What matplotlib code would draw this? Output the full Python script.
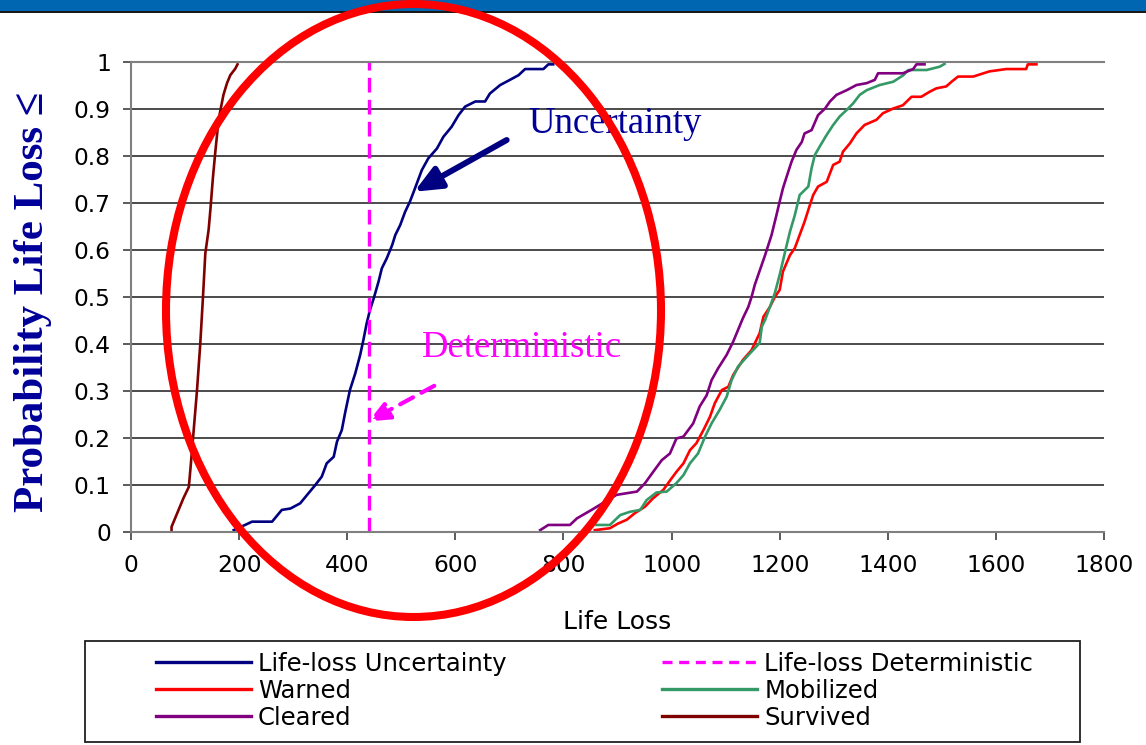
import numpy as np
import matplotlib.pyplot as plt
from matplotlib.patches import Ellipse, Rectangle, FancyArrowPatch
from matplotlib.lines import Line2D

unc_x = [190, 211, 224, 261, 279, 295, 313, 328, 341, 353, 362, 375, 381, 390, 396,
         405, 415, 424, 430, 436, 442, 449, 458, 464, 473, 483, 489, 498, 507, 516,
         523, 538, 550, 566, 578, 593, 606, 618, 637, 655, 664, 683, 701, 717, 729,
         763, 772, 781]
unc_y = [0.004, 0.015, 0.022, 0.022, 0.047, 0.05, 0.061, 0.082, 0.10, 0.118, 0.146,
         0.16, 0.192, 0.217, 0.253, 0.302, 0.338, 0.377, 0.409, 0.444, 0.472, 0.497,
         0.533, 0.561, 0.582, 0.61, 0.632, 0.653, 0.681, 0.703, 0.724, 0.77, 0.795,
         0.816, 0.841, 0.862, 0.887, 0.905, 0.916, 0.916, 0.933, 0.951, 0.962, 0.972,
         0.985, 0.985, 0.995, 0.995]

det_x = 440

warned_x = [858, 886, 901, 917, 932, 951, 966, 985, 1000, 1009, 1022, 1034, 1046, 1059,
            1071, 1080, 1093, 1105, 1114, 1132, 1148, 1163, 1170, 1182, 1191, 1200, 1206,
            1219, 1228, 1237, 1246, 1256, 1262, 1271, 1287, 1299, 1311, 1317, 1330, 1342,
            1357, 1379, 1391, 1410, 1428, 1444, 1462, 1478, 1490, 1508, 1518, 1530, 1558,
            1588, 1619, 1656, 1659, 1675]
warned_y = [0.004, 0.008, 0.018, 0.026, 0.04, 0.054, 0.072, 0.09, 0.114, 0.128, 0.146,
            0.174, 0.189, 0.217, 0.245, 0.274, 0.302, 0.309, 0.334, 0.366, 0.387, 0.423,
            0.458, 0.479, 0.50, 0.515, 0.554, 0.589, 0.604, 0.632, 0.66, 0.696, 0.717,
            0.735, 0.745, 0.781, 0.788, 0.809, 0.827, 0.848, 0.866, 0.877, 0.891, 0.901,
            0.908, 0.926, 0.926, 0.937, 0.944, 0.948, 0.958, 0.969, 0.969, 0.98, 0.985,
            0.985, 0.995, 0.995]

mob_x = [861, 886, 905, 923, 942, 954, 972, 991, 1009, 1022, 1034, 1049, 1062, 1074,
         1089, 1102, 1111, 1123, 1145, 1163, 1167, 1173, 1182, 1191, 1200, 1210, 1219,
         1228, 1237, 1253, 1259, 1265, 1274, 1287, 1299, 1311, 1324, 1336, 1348, 1361,
         1385, 1410, 1429, 1438, 1472, 1496, 1505]
mob_y = [0.015, 0.015, 0.036, 0.043, 0.047, 0.068, 0.084, 0.086, 0.104, 0.121, 0.146,
         0.167, 0.203, 0.231, 0.26, 0.288, 0.323, 0.352, 0.38, 0.402, 0.437, 0.451,
         0.479, 0.508, 0.547, 0.596, 0.639, 0.674, 0.717, 0.735, 0.774, 0.802, 0.82,
         0.845, 0.866, 0.884, 0.898, 0.912, 0.93, 0.94, 0.951, 0.958, 0.972, 0.983,
         0.983, 0.99, 0.996]

clr_x = [757, 772, 812, 825, 852, 898, 936, 951, 966, 982, 997, 1009, 1022, 1040, 1052,
         1065, 1074, 1086, 1102, 1114, 1123, 1132, 1142, 1148, 1154, 1173, 1185, 1194,
         1200, 1206, 1216, 1222, 1231, 1241, 1246, 1259, 1271, 1284, 1293, 1305, 1324,
         1342, 1361, 1376, 1382, 1428, 1447, 1453, 1468]
clr_y = [0.004, 0.015, 0.015, 0.029, 0.047, 0.079, 0.086, 0.104, 0.128, 0.153, 0.167,
         0.199, 0.203, 0.231, 0.267, 0.291, 0.323, 0.348, 0.377, 0.405, 0.43, 0.455,
         0.479, 0.50, 0.526, 0.589, 0.632, 0.674, 0.703, 0.731, 0.767, 0.788, 0.813,
         0.83, 0.848, 0.855, 0.887, 0.901, 0.916, 0.93, 0.94, 0.951, 0.955, 0.962,
         0.976, 0.976, 0.985, 0.995, 0.995]

surv_x = [75, 75, 88, 97, 107, 110, 116, 122, 128, 133, 137.5, 143.6, 146.8, 151.7,
          156, 162, 171, 177.6, 183.7, 193, 197]
surv_y = [0.0, 0.011, 0.047, 0.072, 0.096, 0.135, 0.217, 0.30, 0.398, 0.497, 0.593,
          0.643, 0.685, 0.756, 0.809, 0.877, 0.93, 0.955, 0.972, 0.986, 0.995]

x_ticks = [0, 200, 400, 600, 800, 1000, 1200, 1400, 1600, 1800]
y_ticks = [0, 0.1, 0.2, 0.3, 0.4, 0.5, 0.6, 0.7, 0.8, 0.9, 1]
y_ticklabels = ['0', '0.1', '0.2', '0.3', '0.4', '0.5', '0.6', '0.7', '0.8', '0.9', '1']

W, H = 1146, 745
fig = plt.figure(figsize=(W / 100, H / 100), dpi=100)
ax = fig.add_axes([131 / W, 1 - 532 / H, 973 / W, 470 / H])

navy = '#000080'
magenta = '#FF00FF'
ax.plot(unc_x, unc_y, color=navy, lw=1.9)
ax.plot(warned_x, warned_y, color='#FF0000', lw=1.9)
ax.plot(mob_x, mob_y, color='#339966', lw=1.9)
ax.plot(clr_x, clr_y, color='#800080', lw=1.9)
ax.plot(surv_x, surv_y, color='#800000', lw=1.9)
ax.plot([det_x, det_x], [0, 1], color=magenta, lw=2.4, dashes=(4.4, 2.2))

ax.set_xlim(0, 1800)
ax.set_ylim(0, 1)
ax.set_xticks(x_ticks)
ax.set_yticks(y_ticks)
ax.set_yticklabels(y_ticklabels)
ax.yaxis.grid(True, color='#1a1a1a', lw=1.1)
ax.set_axisbelow(True)
for s in ['left', 'bottom', 'top']:
    ax.spines[s].set_color('#808080')
    ax.spines[s].set_linewidth(1.5)
ax.spines['right'].set_visible(False)
ax.tick_params(axis='both', direction='out', length=5.5, width=1.2, color='#404040',
               labelsize=16.8, labelcolor='black')
ax.tick_params(axis='y', pad=9)
ax.tick_params(axis='x', pad=10)

# annotations
ax.annotate('', xy=(524, 0.724), xytext=(695, 0.834),
            arrowprops=dict(arrowstyle='-|>,head_length=0.8,head_width=0.35',
                            color=navy, lw=4.3, mutation_scale=20,
                            shrinkA=0, shrinkB=0))
ax.add_patch(FancyArrowPatch((561, 0.311), (439, 0.235),
                             arrowstyle='-|>,head_length=0.7,head_width=0.3',
                             mutation_scale=18, color=magenta, lw=3,
                             linestyle=(0, (3.5, 2.3)), shrinkA=0, shrinkB=0))
ax.text(734, 0.849, 'Uncertainty', color='#000099', fontsize=26.5,
        family='Liberation Serif', va='baseline', ha='left')
ax.text(538, 0.373, 'Deterministic', color=magenta, fontsize=26.5,
        family='Liberation Serif', va='baseline', ha='left')

fig.text(617 / W, 1 - 622 / H, 'Life Loss', fontsize=18, ha='center', va='center')
fig.text(33 / W, 1 - 302 / H, 'Probability Life Loss ≤', fontsize=31, color='#000099',
         family='Liberation Serif', fontweight='bold', rotation=90,
         ha='center', va='center')

# header band
fig.add_artist(Rectangle((0, 1 - 11 / H), 1, 11 / H, transform=fig.transFigure,
                         facecolor='#0066B2', edgecolor='none'))
fig.add_artist(Line2D([0, 1], [1 - 12 / H, 1 - 12 / H], transform=fig.transFigure,
                      color='black', lw=1.3))

# legend
fig.add_artist(Rectangle((85 / W, 1 - 742 / H), 995 / W, 101 / H,
                         transform=fig.transFigure, facecolor='none',
                         edgecolor='#202020', lw=1.3))
handles = [Line2D([], [], color=navy, lw=2.4),
           Line2D([], [], color='#FF0000', lw=2.4),
           Line2D([], [], color='#800080', lw=2.4),
           Line2D([], [], color=magenta, lw=2.4, dashes=(3, 2)),
           Line2D([], [], color='#339966', lw=2.4),
           Line2D([], [], color='#800000', lw=2.4)]
labels = ['Life-loss Uncertainty', 'Warned', 'Cleared',
          'Life-loss Deterministic', 'Mobilized', 'Survived']
fig.legend(handles, labels, ncol=2, loc='upper left',
           bbox_to_anchor=(156 / W, 1 - 652 / H), frameon=False, fontsize=17.5,
           handlelength=3.9, handletextpad=0.3, columnspacing=6.4,
           labelspacing=0.12, borderpad=0, borderaxespad=0)

# red ellipse drawn over the chart
fig.add_artist(Ellipse((413.5 / W, 1 - 310.5 / H), 495 / W, 613 / H,
                       transform=fig.transFigure, facecolor='none',
                       edgecolor='#FF0000', lw=5.8, zorder=10))

fig.savefig('out.png', dpi=100)
